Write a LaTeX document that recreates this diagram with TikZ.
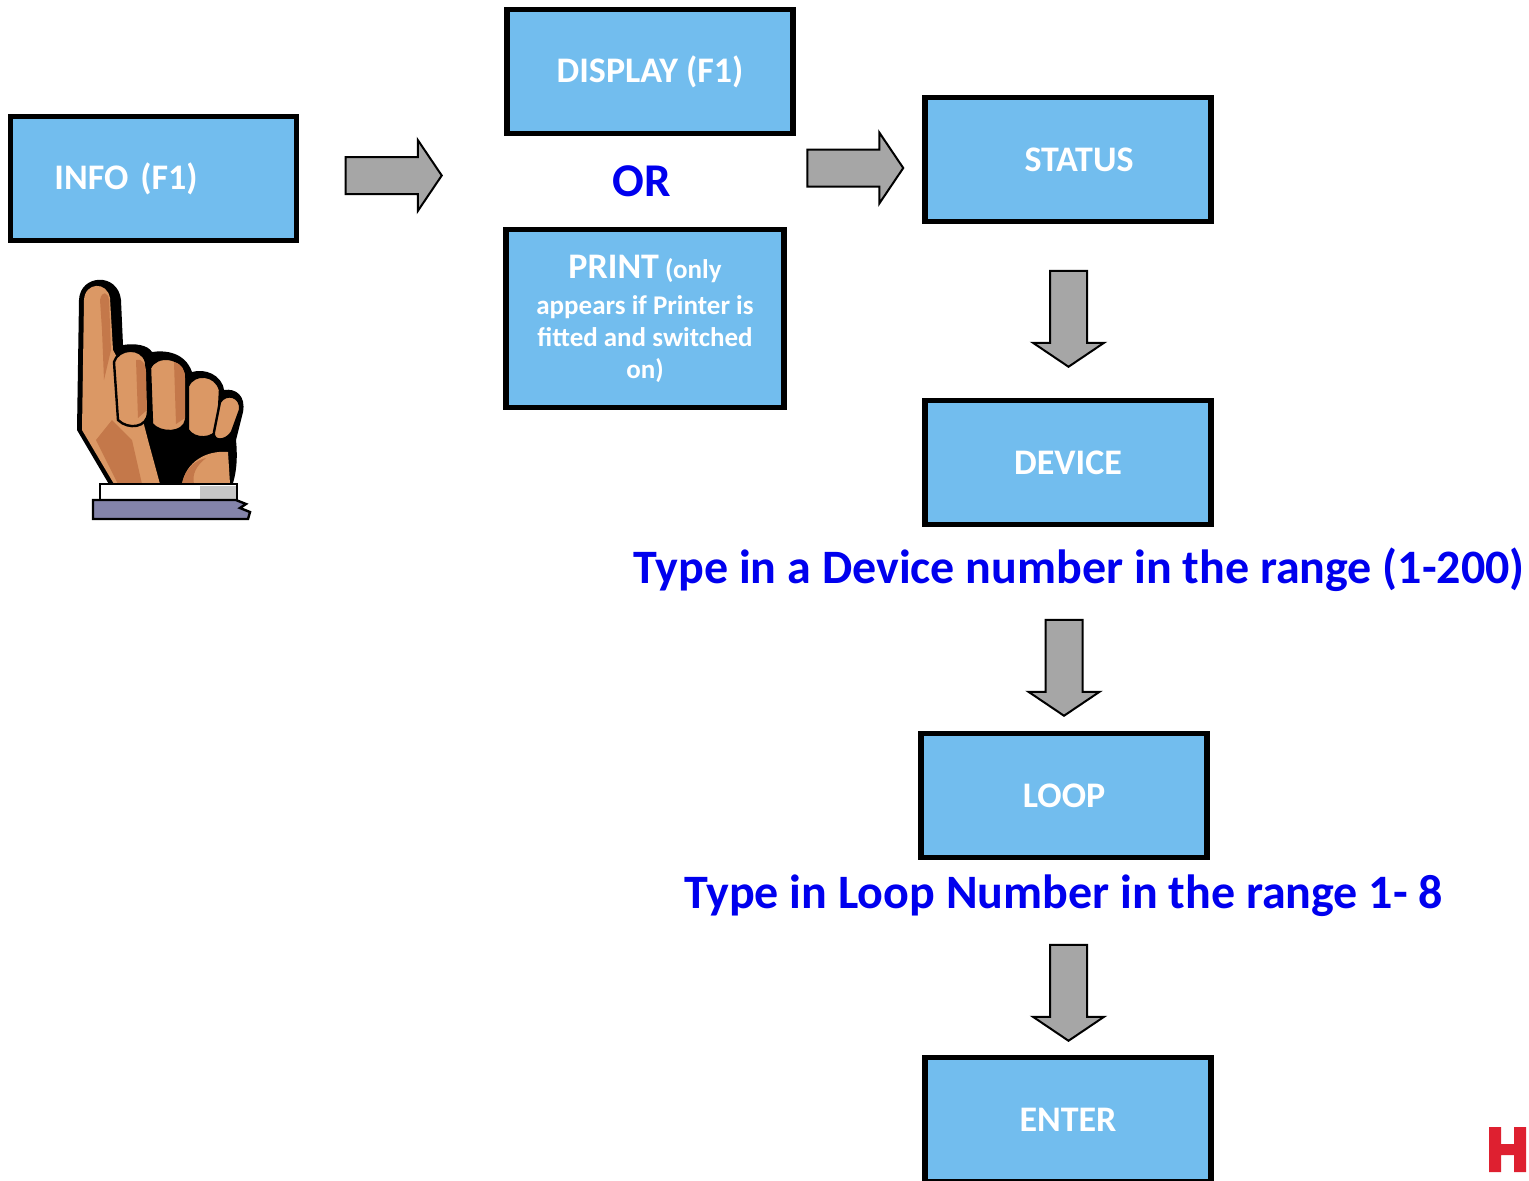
\documentclass[tikz,border=0pt]{standalone}
\usepackage{fontspec}
\setmainfont{Carlito}
\usetikzlibrary{shapes.arrows,positioning}
\definecolor{boxblue}{RGB}{114,189,238}
\definecolor{hintblue}{RGB}{0,0,238}
\definecolor{arrowgrey}{RGB}{166,166,166}
\definecolor{skin}{RGB}{219,152,101}
\definecolor{skinshade}{RGB}{196,120,74}
\definecolor{sleeve}{RGB}{132,132,170}
\definecolor{logored}{RGB}{222,32,48}

\begin{document}
\begin{tikzpicture}[x=0.5pt,y=-0.5pt,
  every node/.style={font=\bfseries},
  box/.style={draw,line width=2.8pt,fill=boxblue,text=white,inner sep=0pt,
    minimum width=143pt,minimum height=62pt,font=\fontsize{18}{22}\bfseries},
  hint/.style={text=hintblue,font=\fontsize{24}{29}\bfseries},
  blockarr/.style={single arrow,draw,line width=1pt,fill=arrowgrey,
    inner xsep=0pt,inner ysep=8.75pt,minimum height=48pt,
    single arrow head extend=8.5pt,single arrow tip angle=112},
  downarr/.style={blockarr,rotate=-90}
]
\useasboundingbox (0,0) rectangle (1529,1180);

\node[box,text width=143pt,align=left] (info) at (153.5,178.5) {\hspace*{22pt}INFO (F1)};
\node[box] (display) at (650,71.5) {DISPLAY (F1)};
\node[text=hintblue,font=\fontsize{23.5}{27}\bfseries] (or) at (642,181) {OR};
\node[box,minimum width=139pt,minimum height=89pt,align=center,
  font=\fontsize{13.5}{16}\bfseries] (print) at (645,318.5)
  {{\fontsize{18}{22}\selectfont PRINT} (only\\[2pt]appears if Printer is\\fitted and switched\\on)};
\node[box] (status) at (1068,159.5) {\hspace*{11pt}STATUS};
\node[box] (device) at (1068,462.5) {DEVICE};
\node[hint] (devhint) at (1079,570) {Type in a Device number in the range (1-200)};
\node[box] (loop) at (1064,795.5) {LOOP};
\node[hint] (loophint) at (1063.5,896) {Type in Loop Number in the range 1- 8};
\node[box] (enter) at (1068,1119.5) {ENTER};

\node[blockarr] (a1) at (387.5,175.5) {};
\node[blockarr] (a2) at (849,168) {};
\node[downarr] (a3) at (1068.5,312.5) {};
\node[downarr] (a4) at (1064,661.5) {};
\node[downarr] (a5) at (1068.5,986.5) {};

% pointing hand
\fill (110,486) -- (77,430) -- (79,300) .. controls (80,274) and (118,272) .. (121,300)
  -- (123,345) .. controls (135,343) and (148,345) .. (152,352)
  .. controls (165,350) and (185,352) .. (192,372)
  .. controls (205,368) and (222,375) .. (224,390)
  .. controls (236,388) and (246,396) .. (243,412)
  -- (236,440) .. controls (238,460) and (236,475) .. (232,486) -- cycle;
\fill[skin] (114,484) -- (82,430) -- (84,300) .. controls (85,282) and (107,281) .. (110,298)
  -- (113,350) -- (135,390) -- (148,440) -- (160,484) -- cycle;
\fill[skinshade] (100,300) .. controls (102,290) and (108,292) .. (109,300) -- (111,350)
  -- (104,380) -- (102,330) -- cycle;
\fill[skinshade] (96,440) -- (112,420) -- (132,440) -- (142,484) -- (118,484) -- cycle;
\filldraw[fill=skin,line width=1.2pt] (114,362) .. controls (118,348) and (142,346) .. (146,362)
  -- (148,412) .. controls (148,428) and (128,430) .. (118,420) -- cycle;
\filldraw[fill=skin,line width=1.2pt] (150,368) .. controls (156,354) and (182,356) .. (186,374)
  -- (186,420) .. controls (184,434) and (160,434) .. (152,424) -- cycle;
\filldraw[fill=skin,line width=1.2pt] (188,386) .. controls (194,372) and (216,374) .. (220,390)
  -- (218,428) .. controls (214,440) and (194,440) .. (188,430) -- cycle;
\filldraw[fill=skin,line width=1.2pt] (220,402) .. controls (226,392) and (242,396) .. (240,410)
  -- (232,432) .. controls (226,442) and (212,442) .. (214,432) -- cycle;
\fill[skinshade] (136,360) .. controls (142,358) and (146,364) .. (146,372) -- (147,410)
  -- (138,418) -- cycle;
\fill[skinshade] (174,362) .. controls (182,364) and (185,370) .. (185,378) -- (185,418)
  -- (176,424) -- cycle;
\fill[skin] (182,484) .. controls (186,462) and (206,450) .. (228,452) -- (230,484) -- cycle;
\fill[skinshade] (182,484) .. controls (185,468) and (196,460) .. (206,458)
  .. controls (196,466) and (192,474) .. (194,484) -- cycle;
\filldraw[fill=white,line width=1.2pt] (100,484) rectangle (237,500);
\fill[gray!45] (200,486) rectangle (236,499);
\filldraw[fill=sleeve,line width=1.2pt] (93,500) -- (236,500) -- (246,504) -- (240,508)
  -- (250,512) -- (248,519) -- (93,519) -- cycle;

% logo
\fill[logored] (1489,1127) rectangle (1501,1172) (1514,1127) rectangle (1526,1172)
  (1500,1144) rectangle (1515,1155);
\end{tikzpicture}
\end{document}
